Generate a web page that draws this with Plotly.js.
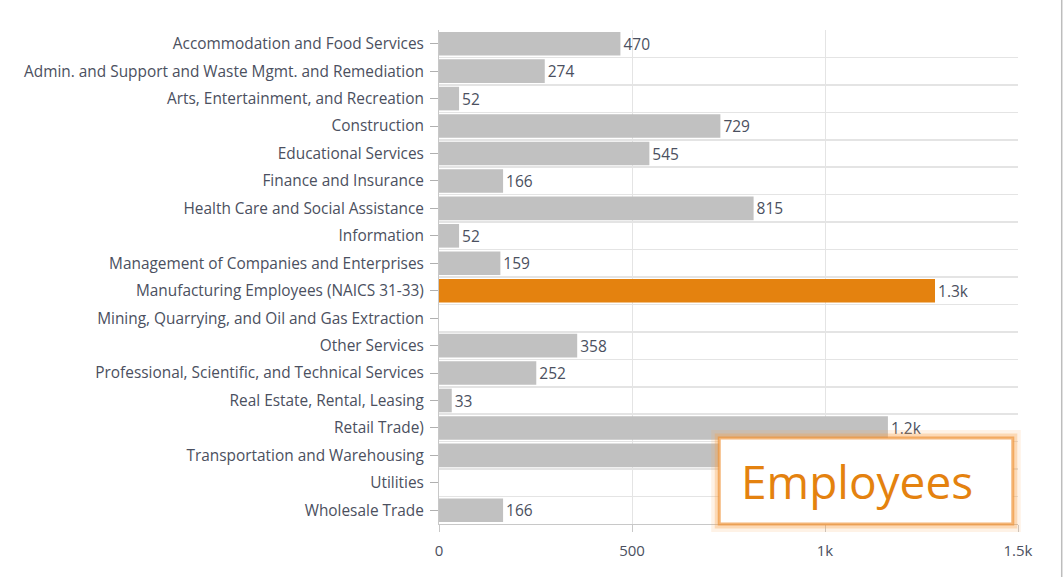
<!DOCTYPE html>
<html>
<head>
<meta charset="utf-8">
<script src="https://cdn.plot.ly/plotly-3.0.1.min.js"></script>
<style>html,body{margin:0;padding:0;background:#fff;}#chart{width:1063px;height:577px;}</style>
</head>
<body>
<div id="chart"></div>
<script>
const categories = [
  "Accommodation and Food Services",
  "Admin. and Support and Waste Mgmt. and Remediation",
  "Arts, Entertainment, and Recreation",
  "Construction",
  "Educational Services",
  "Finance and Insurance",
  "Health Care and Social Assistance",
  "Information",
  "Management of Companies and Enterprises",
  "Manufacturing Employees (NAICS 31-33)",
  "Mining, Quarrying, and Oil and Gas Extraction",
  "Other Services",
  "Professional, Scientific, and Technical Services",
  "Real Estate, Rental, Leasing",
  "Retail Trade)",
  "Transportation and Warehousing",
  "Utilities",
  "Wholesale Trade"
];
const employees = [470, 274, 52, 729, 545, 166, 815, 52, 159, 1285, null, 358, 252, 33, 1163, 1050, null, 166];
const highlightCategory = "Manufacturing Employees (NAICS 31-33)";
const xTickValues = [0, 500, 1000, 1500];
const boxTitle = "Employees";

const GRAY = "#c1c1c1", ORANGE = "#e4820f", TXT = "#4b5060";
const FONT = "'Open Sans', sans-serif";
const fmt = v => v == null ? "" : (v >= 1000 ? (v / 1000).toFixed(1) + "k" : String(v));

const barTrace = {
  type: "bar", orientation: "h",
  y: categories, x: employees,
  marker: { color: categories.map(c => c === highlightCategory ? ORANGE : GRAY) },
  text: employees.map(fmt), textposition: "outside", cliponaxis: false,
  textfont: { family: FONT, size: 15.5, color: TXT },
  hoverinfo: "x+y", showlegend: false
};
// transparent copy on an overlay axis, only to draw category-boundary gridlines
const gridTrace = {
  type: "bar", orientation: "h", y: categories, x: employees, yaxis: "y2",
  marker: { color: "rgba(0,0,0,0)" }, hoverinfo: "skip", showlegend: false
};

const n = categories.length;
const layout = {
  width: 1063, height: 577,
  margin: { l: 439, r: 45, t: 30, b: 53 },
  paper_bgcolor: "#fff", plot_bgcolor: "#fff",
  bargap: 0.14,
  font: { family: FONT, color: TXT },
  xaxis: {
    range: [0, 1500], tickvals: xTickValues, tickformat: "~s",
    showgrid: true, gridcolor: "#e4e4e4", gridwidth: 1,
    zeroline: false, showline: true, linecolor: "#c8c8c8", linewidth: 1,
    ticks: "outside", ticklen: 7, tickcolor: "#c8c8c8",
    ticklabelstandoff: 6,
    tickfont: { family: FONT, size: 15, color: TXT },
    fixedrange: true
  },
  yaxis: {
    type: "category", categoryorder: "array", categoryarray: categories,
    range: [n - 0.5, -0.5], showgrid: false, zeroline: false,
    showline: true, linecolor: "#c8c8c8", linewidth: 1,
    ticks: "outside", ticklen: 8, tickcolor: "#b0b0b0",
    tickfont: { family: FONT, size: 15.4, color: TXT },
    ticklabelstandoff: 3,
    fixedrange: true
  },
  yaxis2: {
    type: "category", categoryorder: "array", categoryarray: categories,
    overlaying: "y", range: [n - 0.5, -0.5], tickson: "boundaries",
    showgrid: true, gridcolor: "#e4e4e4", gridwidth: 1.5,
    showticklabels: false, ticks: "", zeroline: false, showline: false,
    fixedrange: true
  },
  shapes: [
    { type: "rect", xref: "paper", yref: "paper", x0: 0.484, x1: 0.991, y0: 0.0, y1: 0.174,
      fillcolor: "rgba(0,0,0,0)", line: { color: "rgba(250,170,90,0.15)", width: 16 }, layer: "above" },
    { type: "rect", xref: "paper", yref: "paper", x0: 0.484, x1: 0.991, y0: 0.0, y1: 0.174,
      fillcolor: "rgba(0,0,0,0)", line: { color: "rgba(248,160,70,0.3)", width: 9 }, layer: "above" },
    { type: "rect", xref: "paper", yref: "paper", x0: 0.484, x1: 0.991, y0: 0.0, y1: 0.174,
      fillcolor: "#ffffff", line: { color: "rgba(240,150,60,0.7)", width: 3 }, layer: "above" },
    { type: "line", xref: "paper", yref: "paper", x0: 1.0755, x1: 1.0755, y0: -0.12, y1: 1.07,
      line: { color: "#bdbdbd", width: 1.5 } }
  ],
  annotations: [
    { xref: "paper", yref: "paper", x: 0.722, y: 0.087, xanchor: "center", yanchor: "middle",
      text: boxTitle, showarrow: false,
      font: { family: FONT, size: 46, color: ORANGE } }
  ]
};

Plotly.newPlot("chart", [barTrace, gridTrace], layout, { displayModeBar: false, staticPlot: true });
</script>
</body>
</html>
